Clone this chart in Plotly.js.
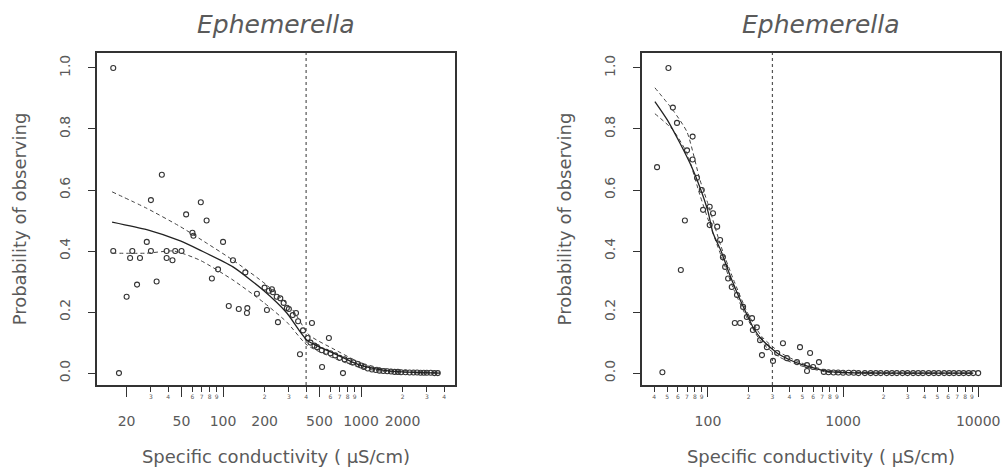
<!DOCTYPE html>
<html>
<head>
<meta charset="utf-8">
<script src="https://cdn.plot.ly/plotly-3.0.1.min.js"></script>
<style>html,body{margin:0;padding:0;background:#fff;}#chart{width:1002px;height:471px;}</style>
</head>
<body>
<div id="chart"></div>
<script>
// ---------- DATA ----------
const panelTitle = "Ephemerella";
const xTitle = "Specific conductivity ( μS/cm)";
const yTitle = "Probability of observing";
const yTickVals = [0, 0.2, 0.4, 0.6, 0.8, 1.0];
const yTickText = ["0.0", "0.2", "0.4", "0.6", "0.8", "1.0"];

// Left panel
const leftObsX = [16, 17.6, 20, 21.2, 23.8, 25, 28, 30, 33, 36, 39, 43, 16, 22, 30, 39, 45, 50,
  54, 60, 61, 69, 76, 83, 92, 100, 110, 118, 130, 145, 149, 150, 176, 208, 226, 250, 290, 338, 361, 441, 585, 522, 740,
  200, 215, 230, 245, 260, 275, 300, 320, 350, 380, 410, 430, 460, 480, 520, 560, 600, 650, 700, 760, 820, 880, 950, 1000,
  1050, 1120, 1200, 1280, 1360, 1450, 1550, 1650, 1750, 1850, 1950, 2100, 2250, 2400, 2550, 2700, 2850, 3000, 3200, 3400, 3600];
const leftObsY = [1.0, 0.0, 0.25, 0.377, 0.29, 0.377, 0.43, 0.567, 0.30, 0.65, 0.377, 0.37, 0.4, 0.4, 0.4, 0.4, 0.4, 0.4,
  0.52, 0.46, 0.45, 0.56, 0.50, 0.31, 0.34, 0.43, 0.22, 0.37, 0.21, 0.33, 0.197, 0.213, 0.26, 0.207, 0.275, 0.167, 0.213, 0.197, 0.062, 0.164, 0.115, 0.02, 0.0,
  0.28, 0.27, 0.265, 0.25, 0.245, 0.23, 0.21, 0.19, 0.17, 0.14, 0.115, 0.10, 0.09, 0.085, 0.075, 0.07, 0.065, 0.058, 0.05, 0.045, 0.04, 0.035, 0.03, 0.025,
  0.02, 0.015, 0.012, 0.01, 0.008, 0.007, 0.006, 0.005, 0.004, 0.004, 0.003, 0.003, 0.002, 0.002, 0.002, 0.001, 0.001, 0.001, 0.001, 0.0, 0.0];
const leftFitX = [15.7, 28, 49, 68, 118, 195, 290, 406, 627, 982, 1440, 2000, 3740];
const leftFitY = [0.495, 0.47, 0.433, 0.403, 0.348, 0.272, 0.197, 0.108, 0.066, 0.026, 0.01, 0.004, 0.0];
const leftUpX = [15.7, 28, 49, 76, 118, 208, 320, 420, 627, 982, 1440, 3740];
const leftUpY = [0.594, 0.54, 0.48, 0.426, 0.37, 0.288, 0.207, 0.125, 0.08, 0.035, 0.015, 0.002];
const leftLoX = [15.7, 28, 44, 68, 118, 195, 290, 406, 627, 982, 1440, 3740];
const leftLoY = [0.393, 0.393, 0.40, 0.37, 0.305, 0.233, 0.167, 0.092, 0.05, 0.018, 0.006, 0.0];
const leftCutoff = 400;
const leftTickVals = [30, 40, 60, 70, 80, 90, 200, 300, 400, 600, 700, 800, 900, 2000, 3000, 4000];
const leftTickText = ["3", "4", "6", "7", "8", "9", "2", "3", "4", "6", "7", "8", "9", "2", "3", "4"];
const leftLongTicks = [20, 50, 100, 500, 1000];
const leftLabelVals = [20, 50, 100, 200, 500, 1000, 2000];
const leftLabelText = ["20", "50", "100", "200", "500", "1000", "2000"];

// Right panel
const rightObsX = [51, 42, 46, 63, 67.5, 55, 59, 77, 70, 77, 83, 90, 103, 92, 117, 103, 123, 129, 141, 164,
  182, 158, 173, 212, 230, 359, 480, 570, 251, 303, 109, 134, 150, 194, 215, 243, 273, 325, 384, 456, 541, 600, 663, 541,
  720, 780, 850, 920, 1000, 1100, 1200, 1300, 1450, 1600, 1750, 1900, 2100, 2300, 2500, 2750, 3000, 3300, 3600, 3900,
  4300, 4700, 5100, 5600, 6100, 6600, 7200, 7800, 8500, 9200, 10000];
const rightObsY = [1.0, 0.675, 0.003, 0.338, 0.50, 0.87, 0.82, 0.775, 0.73, 0.70, 0.64, 0.60, 0.545, 0.535, 0.48, 0.485, 0.436, 0.38, 0.31, 0.256,
  0.217, 0.164, 0.164, 0.18, 0.15, 0.098, 0.085, 0.066, 0.059, 0.04, 0.524, 0.348, 0.282, 0.184, 0.141, 0.108, 0.085, 0.066, 0.049, 0.036, 0.026, 0.02, 0.036, 0.007,
  0.004, 0.003, 0.002, 0.002, 0.001, 0.001, 0.001, 0.0, 0.0, 0.0, 0.0, 0.0, 0.0, 0.0, 0.0, 0.0, 0.0, 0.0, 0.0, 0.0,
  0.0, 0.0, 0.0, 0.0, 0.0, 0.0, 0.0, 0.0, 0.0, 0.0, 0.0];
const rightFitX = [40.5, 50, 62, 75, 87, 100, 109, 125, 138, 155, 173, 195, 215, 250, 288, 340, 405, 480, 570, 660, 760, 900, 1200, 2000, 4000, 9200];
const rightFitY = [0.89, 0.83, 0.754, 0.68, 0.61, 0.53, 0.459, 0.40, 0.348, 0.29, 0.24, 0.19, 0.151, 0.11, 0.085, 0.06, 0.043, 0.03, 0.02, 0.012, 0.006, 0.003, 0.001, 0.0, 0.0, 0.0];
const rightUpX = [40.5, 55, 70, 87, 100, 125, 155, 195, 250, 340, 480, 760, 1200, 9200];
const rightUpY = [0.935, 0.862, 0.79, 0.635, 0.555, 0.415, 0.305, 0.20, 0.12, 0.068, 0.035, 0.009, 0.003, 0.0];
const rightLoX = [40.5, 55, 70, 87, 100, 125, 155, 195, 250, 340, 480, 760, 1200, 9200];
const rightLoY = [0.85, 0.797, 0.72, 0.585, 0.505, 0.385, 0.275, 0.18, 0.10, 0.052, 0.025, 0.003, 0.0, 0.0];
const rightCutoff = 300;
const rightTickVals = [40, 50, 60, 70, 80, 90, 200, 300, 400, 500, 600, 700, 800, 900, 2000, 3000, 4000, 5000, 6000, 7000, 8000, 9000];
const rightTickText = ["4", "5", "6", "7", "8", "9", "2", "3", "4", "5", "6", "7", "8", "9", "2", "3", "4", "5", "6", "7", "8", "9"];
const rightLongTicks = [100, 1000, 10000];
const rightLabelVals = [100, 1000, 10000];
const rightLabelText = ["100", "1000", "10000"];

const yRange = [-0.039, 1.049];
const leftXRange = [12.2, 4800];
const rightXRange = [32.5, 14500];

// ---------- STYLE ----------
const FONT = "DejaVu Sans, Liberation Sans, Arial, sans-serif";
const TXT = "#5a5a5a";
const LINE = "#333";

function pts(x, y, xa, ya) {
  return {x: x, y: y, xaxis: xa, yaxis: ya, type: "scatter", mode: "markers", showlegend: false, hoverinfo: "skip",
    marker: {symbol: "circle-open", size: 5, color: "#333", line: {width: 1.1, color: "#333"}}};
}
function ln(x, y, xa, ya, dash, w, c) {
  return {x: x, y: y, xaxis: xa, yaxis: ya, type: "scatter", mode: "lines", showlegend: false, hoverinfo: "skip",
    line: {color: c, width: w, dash: dash, shape: "spline", smoothing: 0.6}};
}
function vline(v, xa, ya) {
  return {x: [v, v], y: yRange, xaxis: xa, yaxis: ya, type: "scatter", mode: "lines", showlegend: false, hoverinfo: "skip",
    line: {color: "#555", width: 1.2, dash: "3px,3px"}};
}
// invisible carrier so that the label-only overlay axes get drawn
function carrier(vals, xa, ya) {
  return {x: vals, y: vals.map(() => null), xaxis: xa, yaxis: ya, type: "scatter", mode: "markers",
    showlegend: false, hoverinfo: "skip", marker: {opacity: 0}};
}

const traces = [
  vline(leftCutoff, "x", "y"),
  pts(leftObsX, leftObsY, "x", "y"),
  ln(leftUpX, leftUpY, "x", "y", "4px,3px", 1, "#444"),
  ln(leftLoX, leftLoY, "x", "y", "4px,3px", 1, "#444"),
  ln(leftFitX, leftFitY, "x", "y", "solid", 1.3, "#222"),
  vline(rightCutoff, "x2", "y2"),
  pts(rightObsX, rightObsY, "x2", "y2"),
  ln(rightUpX, rightUpY, "x2", "y2", "4px,3px", 1, "#444"),
  ln(rightLoX, rightLoY, "x2", "y2", "4px,3px", 1, "#444"),
  ln(rightFitX, rightFitY, "x2", "y2", "solid", 1.3, "#222"),
  carrier(leftLabelVals, "x3", "y"),
  carrier(rightLabelVals, "x4", "y2")
];

const W = 1002, H = 471;
const yDom = [86 / H, 418 / H];

function xMain(dom, anchor, range, tv, tt, longT) {
  return {
    domain: dom, anchor: anchor,
    type: "log", range: range.map(Math.log10), autorange: false,
    tickmode: "array", tickvals: tv, ticktext: tt, tickangle: 0,
    ticks: "outside", ticklen: 5, tickwidth: 1, tickcolor: LINE,
    tickfont: {family: FONT, size: 6, color: TXT},
    minor: {tickmode: "array", tickvals: longT, ticks: "outside", ticklen: 10, tickwidth: 1, tickcolor: LINE, showgrid: false},
    showline: true, mirror: true, linewidth: 2, linecolor: LINE,
    showgrid: false, zeroline: false,
    title: {text: xTitle, font: {family: FONT, size: 18, color: TXT}, standoff: 51}
  };
}
function xLabels(over, anchor, range, tv, tt) {
  return {
    overlaying: over, anchor: anchor, side: "bottom",
    type: "log", range: range.map(Math.log10), autorange: false,
    tickmode: "array", tickvals: tv, ticktext: tt, tickangle: 0,
    ticks: "", showline: false, showgrid: false, zeroline: false,
    ticklabelstandoff: 26,
    tickfont: {family: FONT, size: 14, color: TXT}
  };
}
function yAx(anchor) {
  return {
    domain: yDom, anchor: anchor, range: yRange, autorange: false,
    tickmode: "array", tickvals: yTickVals, ticktext: yTickText, tickangle: -90,
    ticks: "outside", ticklen: 7, tickwidth: 1, tickcolor: LINE,
    tickfont: {family: FONT, size: 14, color: TXT},
    ticklabelstandoff: 12,
    showline: true, mirror: true, linewidth: 2, linecolor: LINE,
    showgrid: false, zeroline: false,
    title: {text: yTitle, font: {family: FONT, size: 18, color: TXT}, standoff: 26}
  };
}

const layout = {
  width: W, height: H,
  margin: {l: 0, r: 0, t: 0, b: 0, pad: 0},
  paper_bgcolor: "#fff", plot_bgcolor: "#fff",
  font: {family: FONT, color: TXT},
  showlegend: false,
  xaxis: xMain([97 / W, 455 / W], "y", leftXRange, leftTickVals, leftTickText, leftLongTicks),
  yaxis: yAx("x"),
  xaxis2: xMain([642 / W, 1000 / W], "y2", rightXRange, rightTickVals, rightTickText, rightLongTicks),
  yaxis2: yAx("x2"),
  xaxis3: xLabels("x", "y", leftXRange, leftLabelVals, leftLabelText),
  xaxis4: xLabels("x2", "y2", rightXRange, rightLabelVals, rightLabelText),
  annotations: [
    {text: "<i>" + panelTitle + "</i>", xref: "paper", yref: "paper", x: 276 / W, y: (H - 25) / H,
     xanchor: "center", yanchor: "middle", showarrow: false, font: {family: FONT, size: 25, color: TXT}},
    {text: "<i>" + panelTitle + "</i>", xref: "paper", yref: "paper", x: 821 / W, y: (H - 25) / H,
     xanchor: "center", yanchor: "middle", showarrow: false, font: {family: FONT, size: 25, color: TXT}}
  ]
};

Plotly.newPlot("chart", traces, layout, {staticPlot: true, displayModeBar: false});
</script>
</body>
</html>
